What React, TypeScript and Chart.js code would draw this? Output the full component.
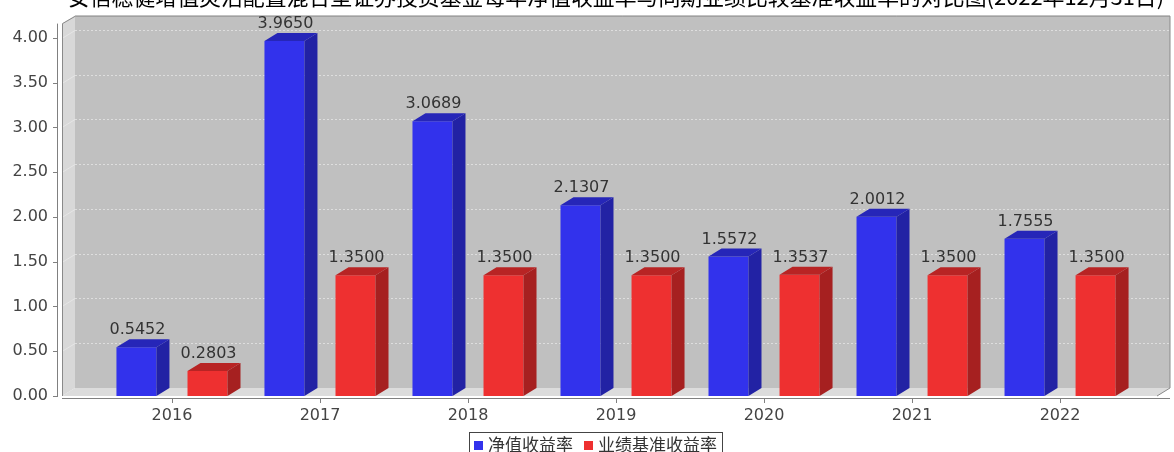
import React, { useEffect, useRef } from 'react';
import { Chart, registerables } from 'chart.js';

Chart.register(...registerables);

const titleText = '安信稳健增值灵活配置混合型证券投资基金每年净值收益率与同期业绩比较基准收益率的对比图(2022年12月31日)';
const categories = ['2016', '2017', '2018', '2019', '2020', '2021', '2022'];
const seriesNames = ['净值收益率', '业绩基准收益率'];
const navReturn = [0.5452, 3.965, 3.0689, 2.1307, 1.5572, 2.0012, 1.7555];
const benchmarkReturn = [0.2803, 1.35, 1.35, 1.35, 1.3537, 1.35, 1.35];
const yTicks = [0, 0.5, 1, 1.5, 2, 2.5, 3, 3.5, 4];

const DX = 13;
const DY = 8;
const FONT = '"DejaVu Sans", sans-serif';
const CJK = '"Noto Sans CJK SC", sans-serif';

const frontColors = ['rgb(50,50,236)', 'rgb(238,48,48)'];
const sideColors = ['rgb(34,34,164)', 'rgb(166,32,32)'];
const topColors = ['rgb(38,38,184)', 'rgb(184,36,36)'];

const threeD = {
  id: 'threeD',
  beforeDraw(chart: any) {
    const { ctx, chartArea } = chart;
    const { left: L, right: R, top: T, bottom: B } = chartArea;
    const y = chart.scales.y;
    const x = chart.scales.x;
    ctx.save();
    ctx.fillStyle = '#ffffff';
    ctx.fillRect(0, 0, chart.width, chart.height);
    ctx.fillStyle = '#c0c0c0';
    ctx.fillRect(L + DX, T - DY, R - L, B - T);
    ctx.fillStyle = '#d8d8d8';
    ctx.beginPath();
    ctx.moveTo(L, T);
    ctx.lineTo(L + DX, T - DY);
    ctx.lineTo(L + DX, B - DY);
    ctx.lineTo(L, B);
    ctx.closePath();
    ctx.fill();
    ctx.fillStyle = '#dcdcdc';
    ctx.beginPath();
    ctx.moveTo(L, B);
    ctx.lineTo(L + DX, B - DY);
    ctx.lineTo(R + DX, B - DY);
    ctx.lineTo(R, B);
    ctx.closePath();
    ctx.fill();
    ctx.lineWidth = 1;
    yTicks.forEach((v) => {
      const py = Math.round(y.getPixelForValue(v)) + 0.5;
      if (v === 0) return;
      ctx.strokeStyle = '#dedede';
      ctx.setLineDash([2, 2]);
      ctx.beginPath();
      ctx.moveTo(L + DX, py - DY);
      ctx.lineTo(R + DX, py - DY);
      ctx.stroke();
      ctx.setLineDash([]);
      ctx.strokeStyle = '#e6e6e6';
      ctx.beginPath();
      ctx.moveTo(L, py);
      ctx.lineTo(L + DX, py - DY);
      ctx.stroke();
    });
    ctx.strokeStyle = '#8a8a8a';
    ctx.beginPath();
    ctx.moveTo(L + 0.5, B);
    ctx.lineTo(L + 0.5, T);
    ctx.lineTo(L + DX + 0.5, T - DY + 0.5);
    ctx.lineTo(R + DX, T - DY + 0.5);
    ctx.lineTo(R + DX, B - DY);
    ctx.lineTo(R, B);
    ctx.stroke();
    ctx.strokeStyle = '#808080';
    ctx.beginPath();
    ctx.moveTo(L - 4.5, T);
    ctx.lineTo(L - 4.5, B + 1);
    ctx.stroke();
    yTicks.forEach((v) => {
      const py = Math.round(y.getPixelForValue(v)) + 0.5;
      ctx.beginPath();
      ctx.moveTo(L - 9, py);
      ctx.lineTo(L - 4.5, py);
      ctx.stroke();
    });
    ctx.beginPath();
    ctx.moveTo(L, B + 2.5);
    ctx.lineTo(R + DX, B + 2.5);
    ctx.stroke();
    categories.forEach((_, i) => {
      const px = Math.round(x.getPixelForValue(i)) + 0.5;
      ctx.beginPath();
      ctx.moveTo(px, B + 2.5);
      ctx.lineTo(px, B + 7);
      ctx.stroke();
    });
    ctx.restore();
  },
  afterDatasetsDraw(chart: any) {
    const { ctx } = chart;
    ctx.save();
    chart.data.datasets.forEach((ds: any, di: number) => {
      const meta = chart.getDatasetMeta(di);
      meta.data.forEach((el: any, i: number) => {
        const { x, y, base, width } = el.getProps(['x', 'y', 'base', 'width'], true);
        const l = x - width / 2;
        const r = x + width / 2;
        ctx.fillStyle = sideColors[di];
        ctx.beginPath();
        ctx.moveTo(r, y);
        ctx.lineTo(r + DX, y - DY);
        ctx.lineTo(r + DX, base - DY);
        ctx.lineTo(r, base);
        ctx.closePath();
        ctx.fill();
        ctx.fillStyle = topColors[di];
        ctx.beginPath();
        ctx.moveTo(l, y);
        ctx.lineTo(l + DX, y - DY);
        ctx.lineTo(r + DX, y - DY);
        ctx.lineTo(r, y);
        ctx.closePath();
        ctx.fill();
        const v = ds.data[i].y;
        ctx.fillStyle = '#333333';
        ctx.font = `16px ${FONT}`;
        ctx.textAlign = 'center';
        ctx.textBaseline = 'bottom';
        ctx.fillText(v.toFixed(4), x + 1, y - DY - 1);
      });
    });
    ctx.restore();
  },
  afterDraw(chart: any) {
    const { ctx } = chart;
    ctx.save();
    ctx.fillStyle = '#000000';
    ctx.font = `22px ${CJK}`;
    const w0 = ctx.measureText(titleText).width;
    const size = Math.min(22, (22 * 1097) / w0);
    ctx.font = `${size.toFixed(2)}px ${CJK}`;
    ctx.textAlign = 'center';
    ctx.textBaseline = 'alphabetic';
    ctx.fillText(titleText, 616, 5);
    ctx.font = `17px ${CJK}`;
    const boxX = 469;
    const boxY = 432.5;
    let cx = boxX + 5;
    const items = chart.data.datasets.map((ds: any, i: number) => ({ label: ds.label, color: frontColors[i] }));
    const widths = items.map((it: any) => ctx.measureText(it.label).width);
    const total = 5 + items.reduce((s: number, _: any, i: number) => s + 9 + 5 + widths[i] + (i < items.length - 1 ? 11 : 5), 0);
    ctx.fillStyle = '#ffffff';
    ctx.fillRect(boxX, boxY, total, 30);
    ctx.strokeStyle = '#444444';
    ctx.lineWidth = 1;
    ctx.strokeRect(boxX + 0.5, boxY, total, 30);
    items.forEach((it: any, i: number) => {
      ctx.fillStyle = it.color;
      ctx.fillRect(cx, 441, 9, 9);
      cx += 14;
      ctx.fillStyle = '#333333';
      ctx.textAlign = 'left';
      ctx.textBaseline = 'middle';
      ctx.fillText(it.label, cx, 445);
      cx += widths[i] + 11;
    });
    ctx.restore();
  },
};

export default function App() {
  const ref = useRef<HTMLCanvasElement | null>(null);
  useEffect(() => {
    document.body.style.margin = '0';
    const canvas = ref.current;
    if (!canvas) return;
    const chart = new Chart(canvas, {
      type: 'bar',
      data: {
        datasets: [
          {
            label: seriesNames[0],
            data: categories.map((_, i) => ({ x: i, y: navReturn[i] })),
            backgroundColor: frontColors[0],
            borderWidth: 0,
          },
          {
            label: seriesNames[1],
            data: categories.map((_, i) => ({ x: i, y: benchmarkReturn[i] })),
            backgroundColor: frontColors[1],
            borderWidth: 0,
          },
        ],
      },
      options: {
        animation: false,
        responsive: false,
        maintainAspectRatio: false,
        datasets: { bar: { categoryPercentage: 0.96, barPercentage: 0.563 } },
        layout: { padding: { top: 23, right: 17, bottom: 0, left: 0 } },
        plugins: {
          legend: { display: false },
          title: { display: false },
          tooltip: { enabled: false },
        },
        scales: {
          x: {
            type: 'linear',
            offset: false,
            min: -0.743,
            max: 6.655,
            afterBuildTicks: (s: any) => {
              s.ticks = categories.map((_, i) => ({ value: i }));
            },
            afterFit: (s: any) => {
              s.height = 56;
            },
            grid: { display: false, drawTicks: false, offset: false },
            border: { display: false },
            ticks: {
              callback: (v: any) => categories[v] ?? '',
              font: { family: FONT, size: 16 },
              color: '#444444',
              padding: 10,
              maxRotation: 0,
              autoSkip: false,
            },
          },
          y: {
            min: 0,
            max: 4.16,
            afterBuildTicks: (s: any) => {
              s.ticks = yTicks.map((v) => ({ value: v }));
            },
            afterFit: (s: any) => {
              s.width = 62;
            },
            grid: { display: false, drawTicks: false },
            border: { display: false },
            ticks: {
              callback: (v: any) => Number(v).toFixed(2),
              font: { family: FONT, size: 16 },
              color: '#444444',
              padding: 14,
            },
          },
        },
      },
      plugins: [threeD],
    } as any);
    return () => chart.destroy();
  }, []);
  return <canvas ref={ref} width={1174} height={452} style={{ display: 'block' }} />;
}
